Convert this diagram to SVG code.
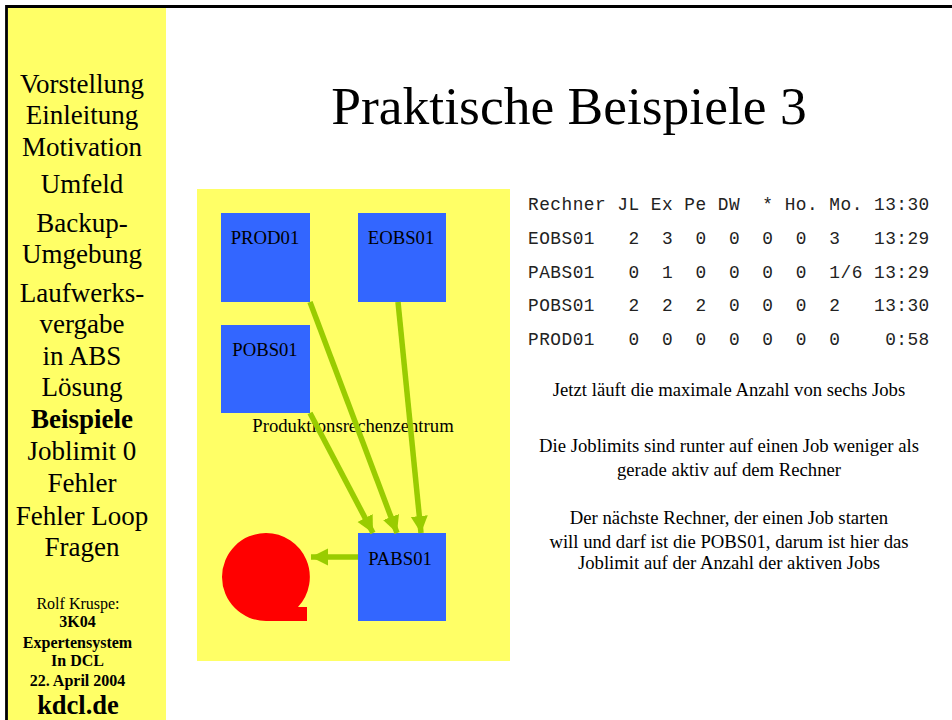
<svg xmlns="http://www.w3.org/2000/svg" width="952" height="720" viewBox="0 0 952 720">
<style>
text{font-family:"Liberation Serif","Times New Roman",serif;fill:#000}
.c{text-anchor:middle}
.nav{font-size:27px;text-anchor:middle}
.small{font-size:16px;text-anchor:middle}
.sb{font-size:16px;text-anchor:middle;font-weight:bold}
.node{font-size:18.700px;text-anchor:middle}
.body{font-size:18.700px;text-anchor:middle}
.mono{font-family:"Liberation Mono","Courier New",monospace;font-size:17.800px;letter-spacing:0.490px;white-space:pre;fill:#222}
.box{fill:#3366ff}
.conn line{stroke:#99cc00;stroke-width:5.500;fill:none}
</style>
<defs>
<marker id="ah" markerUnits="userSpaceOnUse" markerWidth="18" markerHeight="18" refX="17" refY="9" orient="auto"><path d="M0 0.500L17 9L0 17.500Z" fill="#99cc00"/></marker>
</defs>
<rect width="952" height="720" fill="#fff"/>
<rect x="8" y="8" width="158" height="712" fill="#ffff66"/>
<path d="M6.500 720V6.500H952" fill="none" stroke="#000" stroke-width="2.800"/>
<g id="nav">
<text class="nav" x="82" y="93">Vorstellung</text>
<text class="nav" x="82" y="124">Einleitung</text>
<text class="nav" x="82" y="156">Motivation</text>
<text class="nav" x="82" y="193">Umfeld</text>
<text class="nav" x="82" y="232">Backup-</text>
<text class="nav" x="82" y="263">Umgebung</text>
<text class="nav" x="82" y="302">Laufwerks-</text>
<text class="nav" x="82" y="333">vergabe</text>
<text class="nav" x="82" y="365">in ABS</text>
<text class="nav" x="82" y="396">Lösung</text>
<text class="nav" x="82" y="428" font-weight="bold">Beispiele</text>
<text class="nav" x="82" y="460">Joblimit 0</text>
<text class="nav" x="82" y="492">Fehler</text>
<text class="nav" x="82" y="525">Fehler Loop</text>
<text class="nav" x="82" y="556">Fragen</text>
<text class="small" x="78" y="609">Rolf Kruspe:</text>
<text class="sb" x="77.500" y="627">3K04</text>
<text class="sb" x="77.500" y="648">Expertensystem</text>
<text class="sb" x="77.500" y="666">In DCL</text>
<text class="sb" x="77.500" y="686">22. April 2004</text>
<text class="c" x="78" y="714" font-size="26.500" font-weight="bold">kdcl.de</text>
</g>
<text id="title" class="c" x="569" y="124" font-size="53.500">Praktische Beispiele 3</text>
<rect id="panel" x="197" y="189" width="313" height="472" fill="#ffff66"/>
<text id="panel-label" class="node" x="353" y="432">Produktionsrechenzentrum</text>
<g id="PROD01"><rect class="box" x="221" y="213" width="89" height="89"/><text class="node" x="265" y="244">PROD01</text></g>
<g id="EOBS01"><rect class="box" x="358" y="213" width="88" height="89"/><text class="node" x="401" y="244">EOBS01</text></g>
<g id="POBS01"><rect class="box" x="221" y="325" width="89" height="88"/><text class="node" x="265" y="356">POBS01</text></g>
<g id="PABS01"><rect class="box" x="358" y="533" width="88" height="88"/><text class="node" x="400" y="565">PABS01</text></g>
<g id="drum"><path d="M266 533A44 44 0 0 1 298 607H307V621H266A44 44 0 0 1 266 533Z" fill="#ff0000"/></g>
<g class="conn" id="connectors">
<line x1="310" y1="302" x2="397" y2="533" marker-end="url(#ah)"/>
<line x1="310" y1="413" x2="373" y2="533" marker-end="url(#ah)"/>
<line x1="398" y1="302" x2="421" y2="533" marker-end="url(#ah)"/>
<line x1="358" y1="557" x2="311" y2="557" marker-end="url(#ah)"/>
</g>
<g id="table">
<text class="mono" x="528" y="210">Rechner JL Ex Pe DW  * Ho. Mo. 13:30</text>
<text class="mono" x="528" y="244">EOBS01   2  3  0  0  0  0  3   13:29</text>
<text class="mono" x="528" y="278">PABS01   0  1  0  0  0  0  1/6 13:29</text>
<text class="mono" x="528" y="311">POBS01   2  2  2  0  0  0  2   13:30</text>
<text class="mono" x="528" y="345">PROD01   0  0  0  0  0  0  0    0:58</text>
</g>
<g id="notes">
<text class="body" x="729" y="396">Jetzt läuft die maximale Anzahl von sechs Jobs</text>
<text class="body" x="729" y="452">Die Joblimits sind runter auf einen Job weniger als</text>
<text class="body" x="729" y="476">gerade aktiv auf dem Rechner</text>
<text class="body" x="729" y="524">Der nächste Rechner, der einen Job starten</text>
<text class="body" x="729" y="548">will und darf ist die POBS01, darum ist hier das</text>
<text class="body" x="729" y="569">Joblimit auf der Anzahl der aktiven Jobs</text>
</g>
</svg>
